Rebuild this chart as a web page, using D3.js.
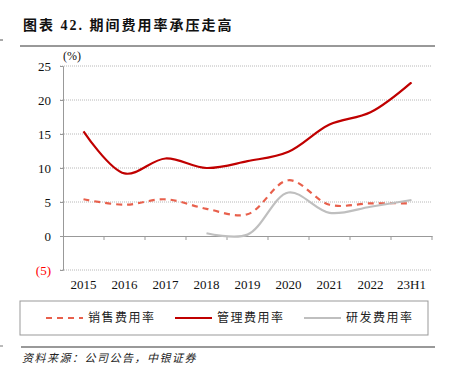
<!DOCTYPE html>
<html>
<head>
<meta charset="utf-8">
<script src="https://cdn.jsdelivr.net/npm/d3@7/dist/d3.min.js"></script>
<style>
body{margin:0;background:#fff;}
</style>
</head>
<body>
<div id="chart"></div>
<script>
// data
const categories = ['2015','2016','2017','2018','2019','2020','2021','2022','23H1'];
const salesRate = [5.4, 4.6, 5.4, 4.0, 3.2, 8.2, 4.6, 4.8, 4.8];
const adminRate = [15.4, 9.2, 11.4, 10.0, 11.0, 12.4, 16.4, 18.2, 22.6];
const rdRate = [null, null, null, 0.4, 0.2, 6.4, 3.4, 4.3, 5.3];
const yTicks = [-5, 0, 5, 10, 15, 20, 25];

const seriesList = [
	{name:'销售费用率', values:salesRate, color:'#E8604C', dash:'6,5'},
	{name:'管理费用率', values:adminRate, color:'#C00000', dash:null},
	{name:'研发费用率', values:rdRate, color:'#BFBFBF', dash:null}
];

const width = 455, height = 377;
const margin = {top: 66, left: 63, right: 23, bottom: 107},
	innerWidth = width - margin.left - margin.right,
	innerHeight = height - margin.top - margin.bottom;

const svg = d3.select('#chart').append('svg').attr('width', width).attr('height', height);

const serif = '"Times New Roman","Liberation Serif",serif';
const cjk = '"Noto Sans CJK SC",sans-serif';

//title
svg.append('text')
	.attr('x', 23).attr('y', 30)
	.attr('font-family', '"Liberation Serif","Noto Sans CJK SC",serif')
	.attr('font-weight', 'bold').attr('font-size', 14).attr('fill', '#111')
	.attr('letter-spacing', 2)
	.text('图表 42. 期间费用率承压走高');
svg.append('line').attr('x1', 20).attr('x2', 435).attr('y1', 46).attr('y2', 46)
	.attr('stroke', '#333').attr('stroke-width', 1);
svg.append('line').attr('x1', 0).attr('x2', 3).attr('y1', 40).attr('y2', 40)
	.attr('stroke', '#555');

const g = svg.append('g').attr('transform', `translate(${margin.left},${margin.top})`);

const x = d3.scaleBand().domain(categories).range([0, innerWidth]);
const y = d3.scaleLinear().domain([-5, 25]).range([innerHeight, 0]);

//grid
g.append('g').selectAll('line')
	.data(yTicks.filter(d => d !== 0))
	.enter().append('line')
	.attr('x1', -3).attr('x2', innerWidth)
	.attr('y1', d => y(d)).attr('y2', d => y(d))
	.attr('stroke', '#b8b8b8').attr('stroke-dasharray', '1,1');

//y axis
const yAxis = g.append('g')
	.call(d3.axisLeft(y).tickValues(yTicks).tickSize(3).tickFormat(d => d < 0 ? '(' + Math.abs(d) + ')' : d));
yAxis.select('.domain').attr('stroke', '#999');
yAxis.selectAll('.tick line').attr('stroke', '#999');
yAxis.selectAll('.tick text')
	.attr('x', -12)
	.attr('font-family', serif).attr('font-size', 13)
	.attr('fill', d => d < 0 ? '#FF0000' : '#111');

g.append('text').attr('x', 0).attr('y', -6)
	.attr('font-family', serif).attr('font-size', 12).attr('fill', '#111')
	.text('(%)');

//zero axis with ticks at band edges
const zeroAxis = g.append('g')
	.attr('transform', `translate(0,${y(0)})`)
	.call(d3.axisBottom(x).tickSize(0).tickFormat(''));
zeroAxis.select('.domain').attr('stroke', '#999');
zeroAxis.selectAll('.tick').remove();
g.append('g').selectAll('line')
	.data(categories)
	.enter().append('line')
	.attr('x1', d => x(d) + x.bandwidth()).attr('x2', d => x(d) + x.bandwidth())
	.attr('y1', y(0)).attr('y2', y(0) + 4)
	.attr('stroke', '#999');

//category labels under the chart
g.append('g').selectAll('text')
	.data(categories)
	.enter().append('text')
	.attr('x', d => x(d) + x.bandwidth() / 2)
	.attr('y', innerHeight + 19)
	.attr('text-anchor', 'middle')
	.attr('font-family', serif).attr('font-size', 13).attr('fill', '#111')
	.text(d => d);

//lines
const line = d3.line()
	.defined(d => d != null)
	.x((d, i) => x(categories[i]) + x.bandwidth() / 2)
	.y(d => y(d))
	.curve(d3.curveCatmullRom.alpha(0.5));

seriesList.forEach(s => {
	g.append('path')
		.datum(s.values)
		.attr('d', line)
		.attr('fill', 'none')
		.attr('stroke', s.color)
		.attr('stroke-width', 2.2)
		.attr('stroke-dasharray', s.dash);
});

//legend
const legendBox = svg.append('g').attr('transform', 'translate(20,301)');
legendBox.append('rect').attr('width', 408).attr('height', 34)
	.attr('fill', 'none').attr('stroke', '#999');
const legend = legendBox.selectAll('g.item')
	.data(seriesList)
	.enter().append('g')
	.attr('transform', (d, i) => `translate(${26 + i * 129},17)`);
legend.append('line')
	.attr('x1', 0).attr('x2', 37).attr('y1', 0).attr('y2', 0)
	.attr('stroke', d => d.color).attr('stroke-width', 2.2)
	.attr('stroke-dasharray', d => d.dash);
legend.append('text')
	.attr('x', 42).attr('y', 0).attr('dy', '0.35em')
	.attr('font-family', cjk).attr('font-size', 12).attr('fill', '#222')
	.attr('letter-spacing', 1.5)
	.text(d => d.name);

//source
svg.append('line').attr('x1', 21).attr('x2', 435).attr('y1', 347).attr('y2', 347)
	.attr('stroke', '#777').attr('stroke-width', 1.5);
svg.append('line').attr('x1', 0).attr('x2', 3).attr('y1', 346).attr('y2', 346)
	.attr('stroke', '#777');
svg.append('text').attr('x', 22).attr('y', 362)
	.attr('font-family', cjk).attr('font-size', 11).attr('font-style', 'italic').attr('fill', '#222')
	.attr('letter-spacing', 1.5)
	.text('资料来源：公司公告，中银证券');
</script>
</body>
</html>
